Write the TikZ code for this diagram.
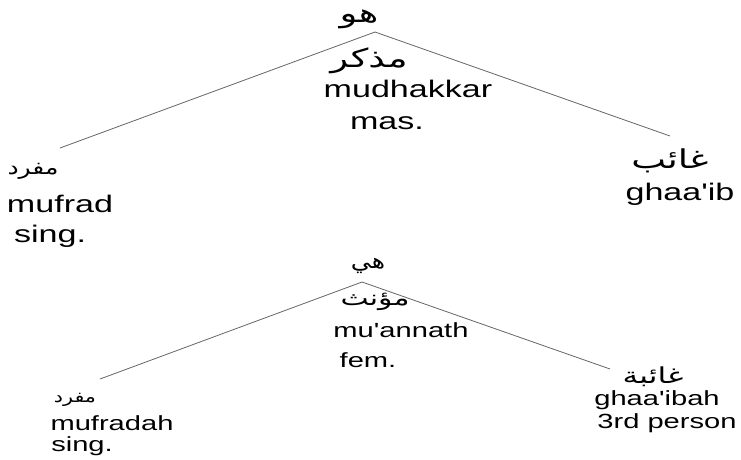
\documentclass[tikz,border=0pt]{standalone}
\usepackage{fontspec}
\setmainfont{Liberation Sans}
\newfontfamily\arabicfont[Script=Arabic]{DejaVu Sans}
\TeXXeTstate=1
\newcommand\wide[1]{\scalebox{1.42}[1]{#1}}
\newcommand\ar[2][1.42]{\scalebox{#1}[1]{\arabicfont\beginR #2\endR}}
\newcommand\ap{\textquotesingle}
\tikzset{
  big/.style={inner sep=0pt, anchor=base, font=\fontsize{24}{26}\selectfont},
  small/.style={inner sep=0pt, anchor=base, font=\fontsize{20.5}{22}\selectfont},
  arab/.style={inner sep=0pt, anchor=base, font=\fontsize{#1}{#1}\selectfont},
  branch/.style={draw=black!60, line width=0.8pt}
}
\begin{document}
\begin{tikzpicture}[x=1pt,y=-1pt]
\useasboundingbox[fill=white] (0,0) rectangle (741,460);
% top tree
\coordinate (t) at (375,32);
\coordinate (tl) at (60,148);
\coordinate (tr) at (670,136);
\draw[branch] (tl) -- (t) -- (tr);
\node[arab=26] (hua) at (359,23) {\ar{هو}};
\node[arab=26] (mudh) at (369,67) {\ar{مذكر}};
\node[big] (mudhl) at (408,97) {\wide{mudhakkar}};
\node[big] (mas) at (387,129) {\wide{mas.}};
\node[arab=20] (mufar) at (33,174) {\ar[1.25]{مفرد}};
\node[big] (mufrad) at (60,212) {\wide{mufrad}};
\node[big] (sing) at (50,242) {\wide{sing.}};
\node[arab=26] (ghar) at (670,168) {\ar{غائب}};
\node[big] (ghaaib) at (680,200) {\wide{ghaa\ap ib}};
% bottom tree
\coordinate (b) at (362,282);
\coordinate (bl) at (100,379);
\coordinate (br) at (610,369);
\draw[branch] (bl) -- (b) -- (br);
\node[arab=21] (hiya) at (368,268) {\ar[1.2]{هي}};
\node[arab=21] (muan) at (375,305) {\ar{مؤنث}};
\node[small] (muanl) at (401,337) {\wide{mu\ap annath}};
\node[small] (fem) at (368,367) {\wide{fem.}};
\node[arab=16.5] (mufar2) at (75,402) {\ar[1.25]{مفرد}};
\node[small] (mufradah) at (112,430) {\wide{mufradah}};
\node[small] (sing2) at (82,451) {\wide{sing.}};
\node[arab=22] (ghar2) at (653,383) {\ar{غائبة}};
\node[small] (ghaaibah) at (657,405) {\wide{ghaa\ap ibah}};
\node[small] (third) at (667,428) {\wide{3rd person}};
\end{tikzpicture}
\end{document}
